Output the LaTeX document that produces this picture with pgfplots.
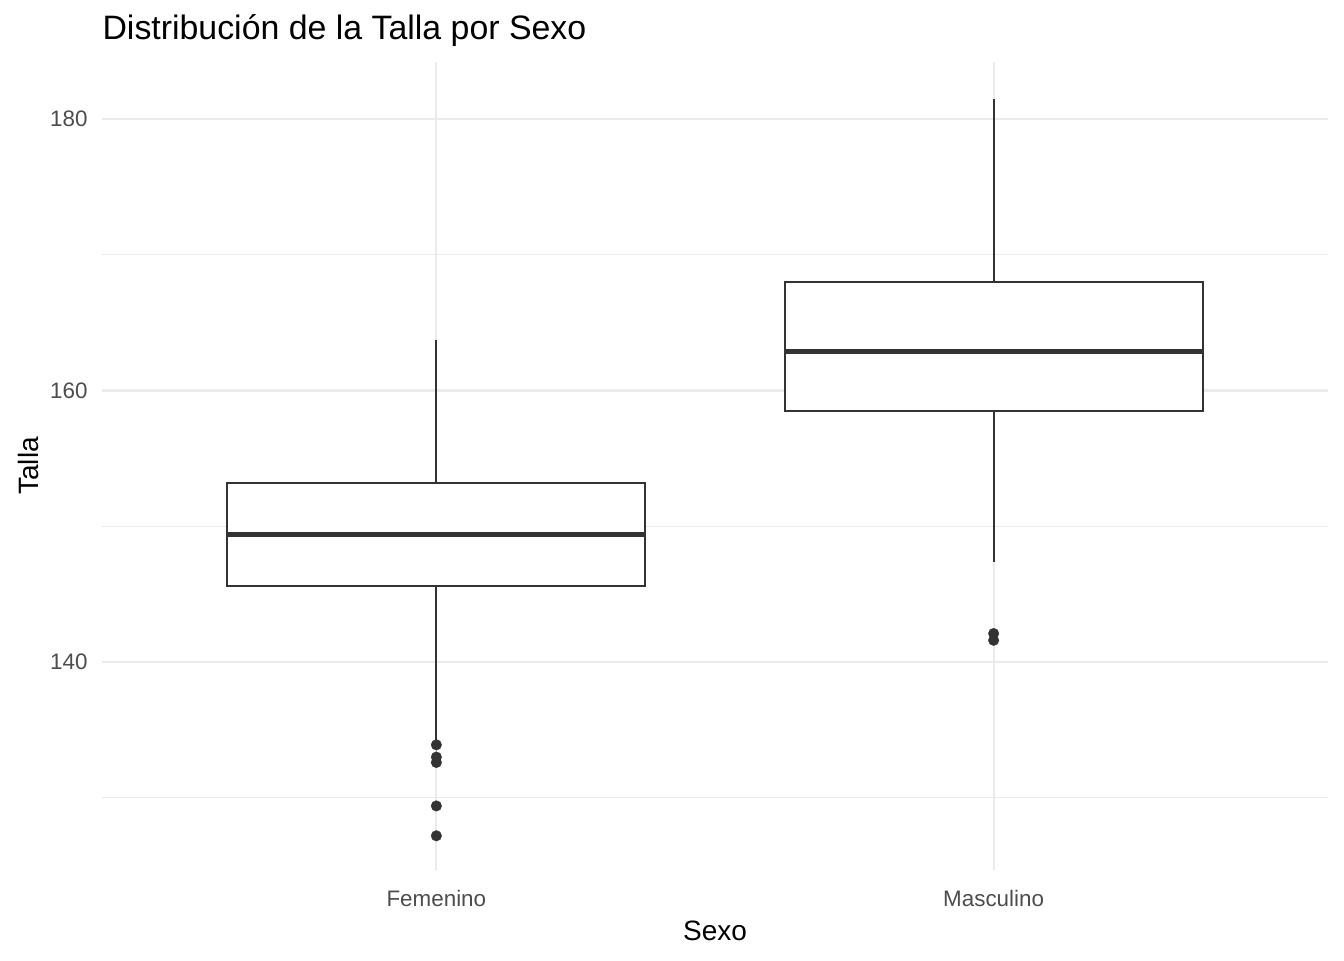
\documentclass[border=0pt]{standalone}
\usepackage{pgfplots}
\pgfplotsset{compat=1.18}
\usepackage{fontspec}
\setmainfont{Liberation Sans}
\definecolor{boxc}{HTML}{333333}
\definecolor{gridc}{HTML}{EBEBEB}
\definecolor{tickc}{HTML}{4D4D4D}
\begin{document}
\begin{tikzpicture}
  \path[use as bounding box] (0,0) rectangle (504pt,360pt);
  \begin{axis}[
    at={(38.25pt,33.75pt)}, anchor=south west,
    scale only axis, width=459.75pt, height=303pt,
    xmin=0.4, xmax=2.6, ymin=124.68, ymax=184.2,
    xtick={1,2}, xticklabels={Femenino,Masculino},
    ytick={140,160,180}, minor ytick={130,150,170},
    grid=both,
    major grid style={gridc, line width=0.8pt},
    minor grid style={gridc, line width=0.4pt},
    axis line style={draw=none},
    tick style={draw=none},
    /pgf/number format/assume math mode=true,
    tick label style={font=\fontsize{8.4}{10}\selectfont, text=tickc, inner sep=0pt},
    xticklabel style={anchor=base, yshift=-13.5pt},
    yticklabel style={anchor=east, xshift=-5.2pt},
    clip=false,
    every axis plot/.append style={draw=boxc, line width=0.8pt, line cap=butt},
  ]
    % Femenino
    \addplot[no marks] coordinates {(1,134.1) (1,145.6)};
    \addplot[no marks] coordinates {(1,153.2) (1,163.7)};
    \addplot[no marks, fill=white] coordinates
      {(0.625,145.6) (1.375,145.6) (1.375,153.2) (0.625,153.2)} -- cycle;
    \addplot[no marks, line width=1.8pt] coordinates {(0.625,149.4) (1.375,149.4)};
    \addplot[only marks, mark=*, mark size=2pt, mark options={fill=boxc, draw=boxc, line width=0.1pt}]
      coordinates {(1,133.9) (1,133.0) (1,132.6) (1,129.4) (1,127.2)};
    % Masculino
    \addplot[no marks] coordinates {(2,147.4) (2,158.5)};
    \addplot[no marks] coordinates {(2,168.0) (2,181.5)};
    \addplot[no marks, fill=white] coordinates
      {(1.625,158.5) (2.375,158.5) (2.375,168.0) (1.625,168.0)} -- cycle;
    \addplot[no marks, line width=1.8pt] coordinates {(1.625,162.9) (2.375,162.9)};
    \addplot[only marks, mark=*, mark size=2pt, mark options={fill=boxc, draw=boxc, line width=0.1pt}]
      coordinates {(2,142.1) (2,141.6)};
    \node[anchor=base, inner sep=0pt, font=\fontsize{10.5}{13}\selectfont]
      at ([yshift=-26.25pt]rel axis cs:0.5,0) {Sexo};
    \node[anchor=base, rotate=90, inner sep=0pt, font=\fontsize{10.5}{13}\selectfont]
      at ([xshift=-24pt]rel axis cs:0,0.5) {Talla};
    \node[anchor=base west, inner sep=0pt, font=\fontsize{12.7}{15}\selectfont]
      at ([yshift=8.25pt]rel axis cs:0,1) {Distribución de la Talla por Sexo};
  \end{axis}
\end{tikzpicture}
\end{document}
